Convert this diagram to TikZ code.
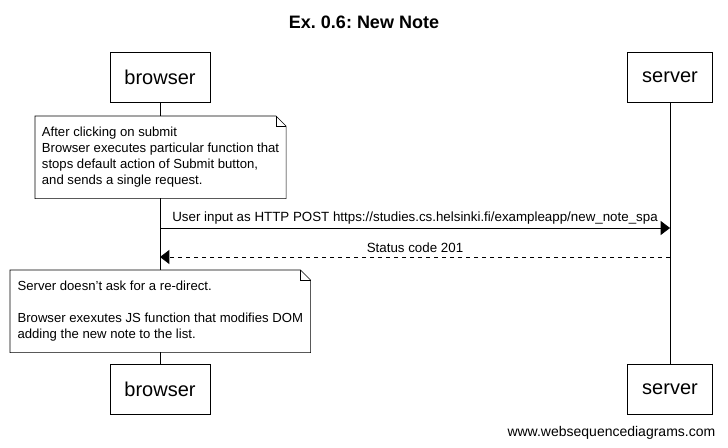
\documentclass[tikz,border=0pt]{standalone}
\usepackage{fontspec}
\setmainfont{Liberation Sans}
\usetikzlibrary{arrows.meta,positioning}
\tikzstyle{actor} = [rectangle, draw, fill=white, text centered, minimum height=37.5pt, font=\fontsize{15pt}{18pt}\selectfont]
\tikzstyle{note} = [rectangle, fill=white, anchor=north west, align=left, inner xsep=5pt, font=\fontsize{9.85pt}{12pt}\selectfont]
\tikzstyle{msg} = [line width=0.6pt, -{Triangle[length=7pt,width=10.5pt]}]
\tikzstyle{lbl} = [font=\fontsize{10pt}{12pt}\selectfont, above=-0.5pt]
\newcommand{\foldnote}[1]{%
  \draw (#1.north west) -- ([xshift=-7.5pt]#1.north east) -- ([yshift=-7.5pt]#1.north east) -- (#1.south east) -- (#1.south west) -- cycle;
  \draw ([xshift=-7.5pt]#1.north east) |- ([yshift=-7.5pt]#1.north east);}
\frenchspacing

\begin{document}
\begin{tikzpicture}[x=0.75pt, y=-0.75pt]
        \useasboundingbox (0,0) rectangle (728,448);
        \node (title) at (364,22) {\fontsize{13.5pt}{16pt}\selectfont\bfseries Ex. 0.6: New Note};
        % participants
        \node (browser-top) [actor, minimum width=75pt] at (160,77) {browser};
        \node (server-top) [actor, minimum width=63.75pt] at (670,77) {server};
        \node (browser-bot) [actor, minimum width=75pt] at (160,389) {browser};
        \node (server-bot) [actor, minimum width=63.75pt] at (670,389) {server};
        \draw (browser-top) -- (browser-bot);
        \draw (server-top) -- (server-bot);
        % notes
        \node (note1) [note, minimum width=187.5pt, minimum height=61.5pt] at (35,116) {After clicking on submit\\Browser executes particular function that\\stops default action of Submit button,\\and sends a single request.};
        \foldnote{note1}
        \node (note2) [note, minimum width=225pt, minimum height=61.5pt] at (10,270) {Server doesn{\char"0027}t ask for a re-direct.\\[12pt]Browser exexutes JS function that modifies DOM\\adding the new note to the list.};
        \foldnote{note2}
        % messages
        \coordinate (b1) at (160,228);
        \coordinate (s1) at (670,228);
        \coordinate (s2) at (670,257);
        \coordinate (b2) at (160,257);
        \draw [msg] (b1) -- node[lbl] {User input as HTTP POST https://studies.cs.helsinki.fi/exampleapp/new\_note\_spa} (s1);
        \draw [msg, dashed] (s2) -- node[lbl] {Status code 201} (b2);
        \node (footer) [anchor=east, font=\fontsize{10.5pt}{12pt}\selectfont] at (720,433) {www.websequencediagrams.com};
    \end{tikzpicture}
\end{document}
